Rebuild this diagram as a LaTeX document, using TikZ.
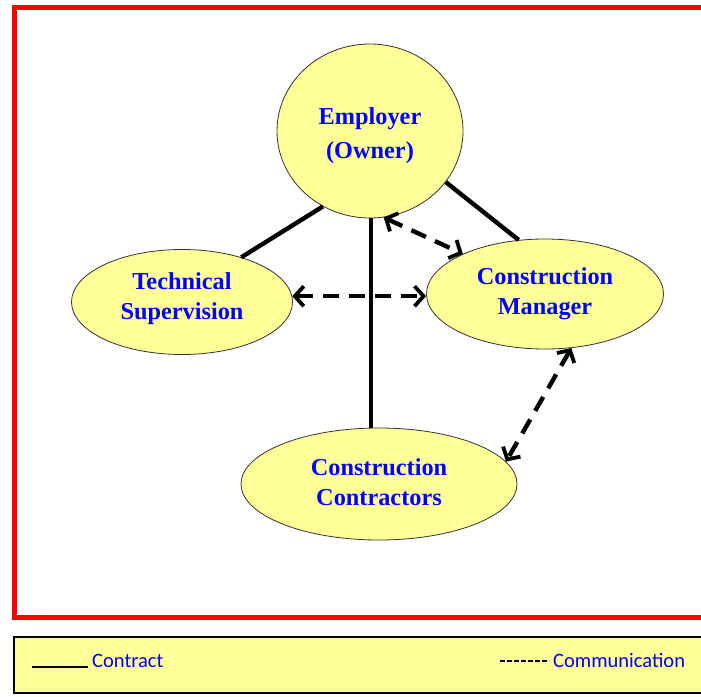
\documentclass[tikz,border=0pt]{standalone}
\usepackage{fontspec}
\setmainfont{Liberation Serif}
\newfontfamily\legendfont{Carlito}
\usetikzlibrary{arrows.meta,shapes.geometric}
\definecolor{lightyel}{RGB}{255,255,153}
\definecolor{txtblue}{RGB}{0,0,255}
\begin{document}
\begin{tikzpicture}[x=1pt,y=-1pt,
  party/.style={ellipse,draw=black!80,line width=0.8pt,fill=lightyel,inner sep=0pt},
  partytext/.style={align=center,text=txtblue,inner sep=0pt,
    font=\fontsize{24.3}{30}\selectfont\bfseries},
  contract/.style={line width=4.4pt},
  comm/.style={line width=4.4pt,dash pattern=on 16pt off 10pt,
    {Straight Barb[length=9pt,width=20pt,line width=3.8pt]}-{Straight Barb[length=9pt,width=20pt,line width=3.8pt]}},
  legtext/.style={font=\legendfont\fontsize{20.5}{24}\selectfont,text=txtblue,inner sep=0pt,anchor=base west}]
\useasboundingbox (0,0) rectangle (701,696);
\fill[white] (0,0) rectangle (701,696);
% red frame
\draw[red,line width=5pt] (720,7) -- (14,7) -- (14,617) -- (720,617);
% legend box
\draw[black,line width=2pt,fill=lightyel] (720,637) -- (14,637) -- (14,693) -- (720,693);
% ellipses
\node[party,minimum width=186pt,minimum height=174pt,
  label={[partytext,font=\fontsize{24.3}{33.5}\selectfont\bfseries,yshift=-4.5pt]center:Employer\\(Owner)}] (emp) at (370,131) {};
\node[party,minimum width=221pt,minimum height=105pt,
  label={[partytext,yshift=3pt]center:Technical\\Supervision}] (tech) at (182,302) {};
\node[party,minimum width=237pt,minimum height=110pt,
  label={[partytext,yshift=0.5pt]center:Construction\\Manager}] (cm) at (545,294) {};
\node[party,minimum width=276pt,minimum height=112pt,
  label={[partytext,yshift=1.5pt]center:Construction\\Contractors}] (cc) at (379,484) {};
% contract lines
\draw[contract] (emp.-122) -- (tech.37);
\draw[contract] (emp.-34) -- (cm.116);
\coordinate (es) at ([xshift=1pt]emp.south);
\draw[contract] (es) -- (es |- cc.north);
% communication
\draw[comm] (emp.-81) -- (cm.154);
\coordinate (th) at (tech.3);
\draw[comm] (th) -- (th -| cm.west);
\draw[comm] (cm.-64) -- (cc.10);
% legend
\node[legtext] (lc) at (92,667) {Contract};
\draw[line width=1.8pt] (32,667) -- (88,667);
\node[legtext] (lm) at (553,667) {Communication};
\draw[line width=1.6pt,dash pattern=on 5pt off 2pt] (500,661) -- (549,661);
\end{tikzpicture}
\end{document}
